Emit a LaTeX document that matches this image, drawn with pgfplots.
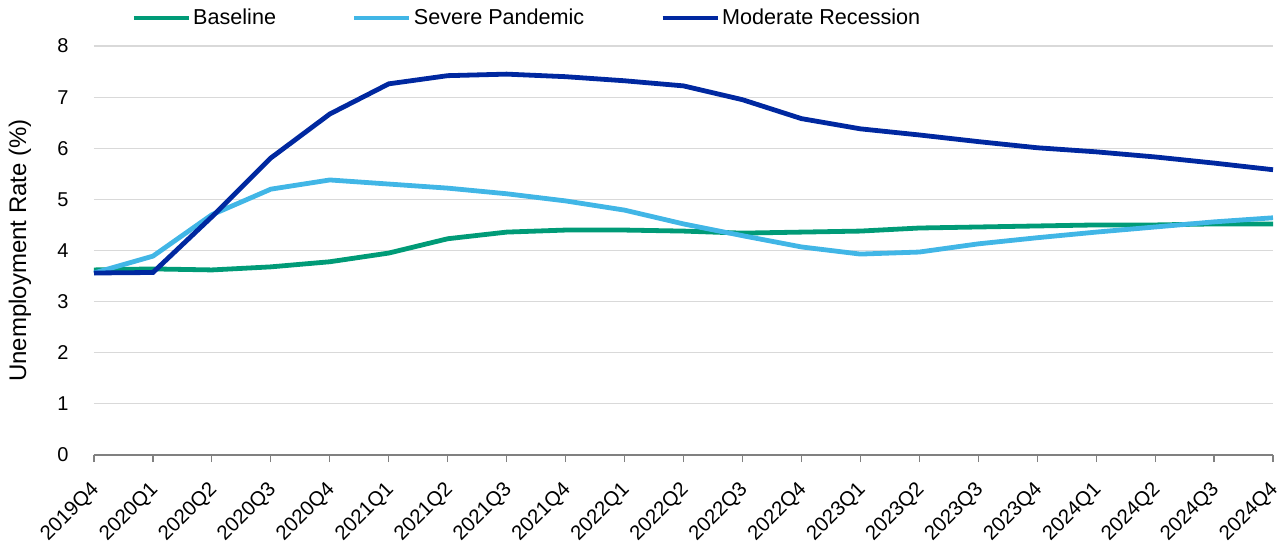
\documentclass[border=0pt]{standalone}
\usepackage{pgfplots}
\pgfplotsset{compat=1.18}
\usepackage{fontspec}
\setmainfont{Liberation Sans}
\definecolor{cgreen}{HTML}{009B77}
\definecolor{clight}{HTML}{41B6E6}
\definecolor{cdark}{HTML}{0028A0}
\begin{document}
\begin{tikzpicture}[x=1pt,y=1pt]
\path[use as bounding box] (0,0) rectangle (643.5,271);
\begin{axis}[
  at={(47pt,43.5pt)}, anchor=origin,
  scale only axis, width=589.5pt, height=204.5pt,
  xmin=0, xmax=20, ymin=0, ymax=8,
  xtick={0,...,20},
  xticklabels={2019Q4,2020Q1,2020Q2,2020Q3,2020Q4,2021Q1,2021Q2,2021Q3,2021Q4,2022Q1,2022Q2,2022Q3,2022Q4,2023Q1,2023Q2,2023Q3,2023Q4,2024Q1,2024Q2,2024Q3,2024Q4},
  x tick label style={rotate=45, anchor=north east, font=\fontsize{10.2}{12}\selectfont, inner sep=0pt, xshift=-7.7pt, yshift=-4.6pt},
  ytick={0,...,8},
  y tick label style={font=\fontsize{10}{12}\selectfont, inner sep=0pt, xshift=-9pt},
  /pgf/number format/assume math mode=true,
  ymajorgrids, grid style={draw=black!15, line width=0.6pt},
  axis x line*=bottom, axis y line*=left,
  y axis line style={draw=none},
  x axis line style={draw=black!50, line width=0.6pt, -},
  xtick style={draw=black!50, line width=0.6pt},
  ytick style={draw=none},
  tick align=outside, major tick length=3.5pt,
  ylabel={Unemployment Rate (\%)},
  every axis y label/.style={at={(rel axis cs:0,0.5)}, xshift=-37pt, rotate=90, anchor=center, font=\fontsize{12}{14}\selectfont},
  legend columns=3,
  legend style={draw=none, fill=none, at={(18.5pt,218.5pt)}, anchor=west, font=\fontsize{10.8}{12}\selectfont, inner sep=0pt, nodes={inner xsep=1pt, inner ysep=0pt}, /tikz/every even column/.append style={column sep=37pt}},
  legend image code/.code={\draw[#1] (0pt,0pt) -- (27.5pt,0pt);},
  legend cell align=left,
  clip=false,
]
\addplot[cgreen, line width=2.4pt] coordinates {
(0,3.62) (1,3.64) (2,3.62) (3,3.68) (4,3.78) (5,3.95) (6,4.23) (7,4.36) (8,4.40) (9,4.40) (10,4.38) (11,4.34) (12,4.36) (13,4.38) (14,4.44) (15,4.46) (16,4.48) (17,4.50) (18,4.50) (19,4.52) (20,4.52)};
\addlegendentry{Baseline}
\addplot[clight, line width=2.4pt] coordinates {
(0,3.56) (1,3.89) (2,4.70) (3,5.20) (4,5.38) (5,5.30) (6,5.22) (7,5.11) (8,4.97) (9,4.79) (10,4.52) (11,4.29) (12,4.07) (13,3.93) (14,3.97) (15,4.13) (16,4.25) (17,4.36) (18,4.46) (19,4.56) (20,4.64)};
\addlegendentry{Severe Pandemic}
\addplot[cdark, line width=2.4pt] coordinates {
(0,3.56) (1,3.57) (2,4.66) (3,5.81) (4,6.67) (5,7.26) (6,7.42) (7,7.45) (8,7.40) (9,7.32) (10,7.22) (11,6.95) (12,6.58) (13,6.38) (14,6.26) (15,6.13) (16,6.01) (17,5.93) (18,5.83) (19,5.71) (20,5.58)};
\addlegendentry{Moderate Recession}
\end{axis}
\end{tikzpicture}
\end{document}
